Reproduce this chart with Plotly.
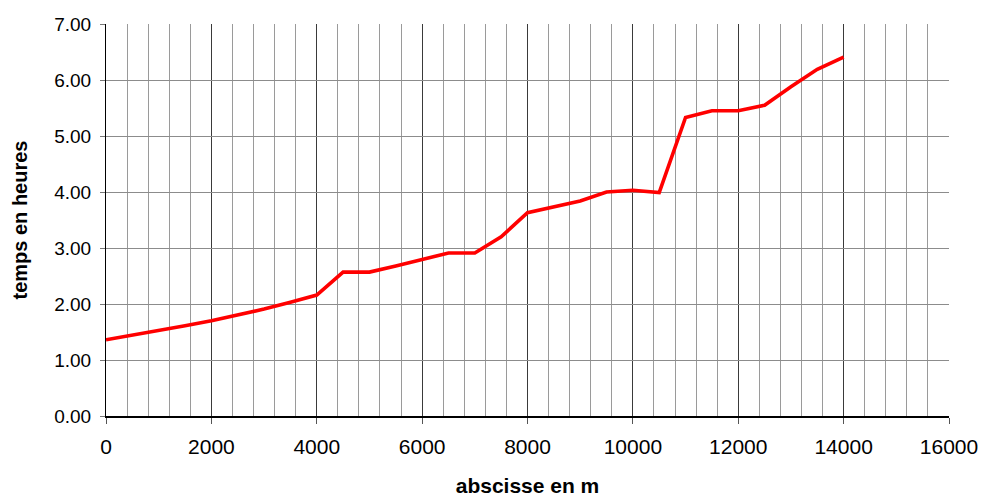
import plotly.graph_objects as go

abscisse_m = [0, 500, 1000, 1500, 2000, 2500, 3000, 3500, 4000, 4500, 5000, 5500,
              6000, 6500, 7000, 7500, 8000, 8500, 9000, 9500, 10000, 10500,
              11000, 11500, 12000, 12500, 13000, 13500, 14000]
temps_h = [1.36, 1.44, 1.52, 1.61, 1.70, 1.80, 1.91, 2.03, 2.16, 2.57, 2.57, 2.68,
           2.79, 2.91, 2.91, 3.20, 3.63, 3.74, 3.84, 4.00, 4.03, 3.99,
           5.33, 5.45, 5.45, 5.55, 5.88, 6.19, 6.41]

x_tickvals = [0, 2000, 4000, 6000, 8000, 10000, 12000, 14000, 16000]
x_ticktext = ["0", "2000", "4000", "6000", "8000", "10000", "12000", "14000", "16000"]
y_tickvals = [0, 1, 2, 3, 4, 5, 6, 7]

fig = go.Figure()
fig.add_trace(go.Scatter(
    x=abscisse_m, y=temps_h, mode="lines",
    line=dict(color="#ff0000", width=3.6),
    showlegend=False, hoverinfo="skip",
))

fig.update_layout(
    width=981, height=497,
    margin=dict(l=106, r=32, t=24, b=81),
    paper_bgcolor="white", plot_bgcolor="white",
    font=dict(family="Liberation Sans, Arial, sans-serif", color="black"),
    xaxis=dict(
        range=[0, 16000], tickvals=x_tickvals, ticktext=x_ticktext,
        showgrid=True, gridcolor="#3a3a3a", gridwidth=1,
        minor=dict(dtick=400, tick0=0, showgrid=True, gridcolor="#9a9a9a", gridwidth=1, ticks=""),
        showline=True, linecolor="black", linewidth=2,
        ticks="outside", ticklen=6, tickcolor="#555555",
        tickfont=dict(size=21), ticklabelstandoff=5,
        zeroline=False, automargin=False,
        title=dict(text="<b>abscisse en m</b>", font=dict(size=21), standoff=44),
    ),
    yaxis=dict(
        range=[0, 7], tickvals=y_tickvals, tickformat=".2f",
        showgrid=True, gridcolor="#8c8c8c", gridwidth=1,
        showline=True, linecolor="black", linewidth=1,
        ticks="outside", ticklen=5, tickcolor="#777777",
        tickfont=dict(size=19), ticklabelstandoff=5,
        zeroline=False, automargin=False,
        title=dict(text="<b>temps en heures</b>", font=dict(size=20), standoff=21),
    ),
)

fig.write_html("out.html", config={"displayModeBar": False},
               post_script="document.body.style.margin='0';")
